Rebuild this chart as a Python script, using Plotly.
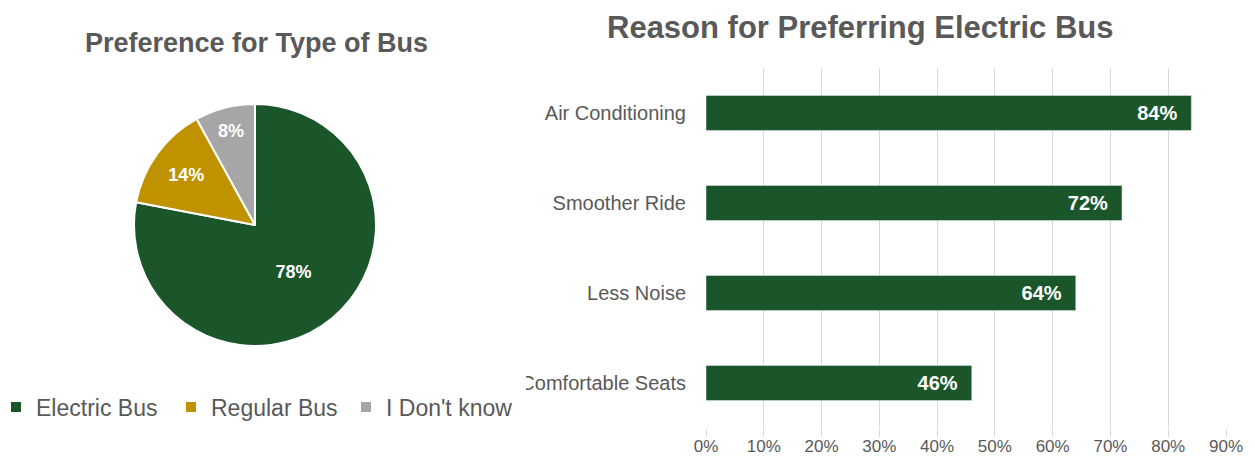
import plotly.graph_objects as go

# pie data
bus_types = ["Electric Bus", "Regular Bus", "I Don't know"]
bus_share = [78, 14, 8]
bus_colors = ["#1b562b", "#c09200", "#a6a6a6"]

# bar data (bottom to top)
reasons = ["Comfortable Seats", "Less Noise", "Smoother Ride", "Air Conditioning"]
reason_share = [0.46, 0.64, 0.72, 0.84]
x_ticks = [0, 0.1, 0.2, 0.3, 0.4, 0.5, 0.6, 0.7, 0.8, 0.9]

# page has an 8px body margin, so the figure is a bit smaller than the window
OFF = 8
W, H = 1255 - 2 * OFF, 466 - 2 * OFF
grey = "#595959"
font = "Liberation Sans, Arial, sans-serif"
pad = "\u00a0\u00a0"


def fx(px):
    # window pixel x -> paper fraction
    return (px - OFF) / W


def fy(py):
    # window pixel y (from top) -> paper fraction
    return (H - (py - OFF)) / H


fig = go.Figure()

fig.add_trace(go.Pie(
    labels=bus_types,
    values=bus_share,
    sort=False,
    direction="clockwise",
    rotation=0,
    marker=dict(colors=bus_colors, line=dict(color="white", width=2)),
    texttemplate="%{percent:.0%}",
    textposition="inside",
    insidetextorientation="horizontal",
    textfont=dict(color="white", size=18, family=font, weight="bold"),
    domain=dict(x=[fx(134), fx(376)], y=[fy(346), fy(104)]),
    hoverinfo="label+percent",
))

fig.add_trace(go.Bar(
    y=reasons,
    x=reason_share,
    orientation="h",
    marker=dict(color="#1b562b"),
    width=0.39,
    texttemplate="%{x:.0%}" + pad,
    textposition="inside",
    insidetextanchor="end",
    textfont=dict(color="white", size=20, family=font, weight="bold"),
    showlegend=False,
    xaxis="x",
    yaxis="y",
))

fig.update_layout(
    width=W,
    height=H,
    margin=dict(l=0, r=0, t=0, b=0, autoexpand=False),
    paper_bgcolor="white",
    plot_bgcolor="white",
    font=dict(family=font, color=grey),
    xaxis=dict(
        domain=[fx(706), fx(1226)],
        range=[0, 0.9],
        tickvals=x_ticks,
        tickformat=".0%",
        showgrid=True,
        gridcolor="#d9d9d9",
        gridwidth=1,
        zeroline=False,
        showline=False,
        tickfont=dict(size=17, color=grey),
        ticks="outside",
        ticklen=8,
        tickcolor="#d9d9d9",
        ticklabelstandoff=-5,
        automargin=False,
        fixedrange=True,
    ),
    yaxis=dict(
        domain=[fy(428), fy(68)],
        showgrid=False,
        tickfont=dict(size=20, color=grey),
        ticklabelstandoff=19,
        automargin=False,
        fixedrange=True,
    ),
    legend=dict(
        orientation="h",
        x=fx(-4),
        xanchor="left",
        y=fy(407),
        yanchor="middle",
        font=dict(size=23, color=grey),
        entrywidth=130,
        itemwidth=30,
    ),
    showlegend=True,
    annotations=[
        dict(text="Preference for Type of Bus", x=fx(257), y=fy(43),
             xref="paper", yref="paper", showarrow=False,
             xanchor="center", yanchor="middle",
             font=dict(size=27, color=grey, weight="bold")),
        dict(text="Reason for Preferring Electric Bus", x=fx(860), y=fy(27),
             xref="paper", yref="paper", showarrow=False,
             xanchor="center", yanchor="middle", borderpad=0,
             font=dict(size=31, color=grey, weight="bold")),
    ],
    shapes=[
        # the category label is cut off at the left in the source image
        dict(type="rect", xref="paper", yref="paper", layer="above",
             x0=fx(480), x1=fx(526), y0=fy(398), y1=fy(370),
             fillcolor="white", line=dict(width=0)),
    ],
)

fig.write_html("out.html")
